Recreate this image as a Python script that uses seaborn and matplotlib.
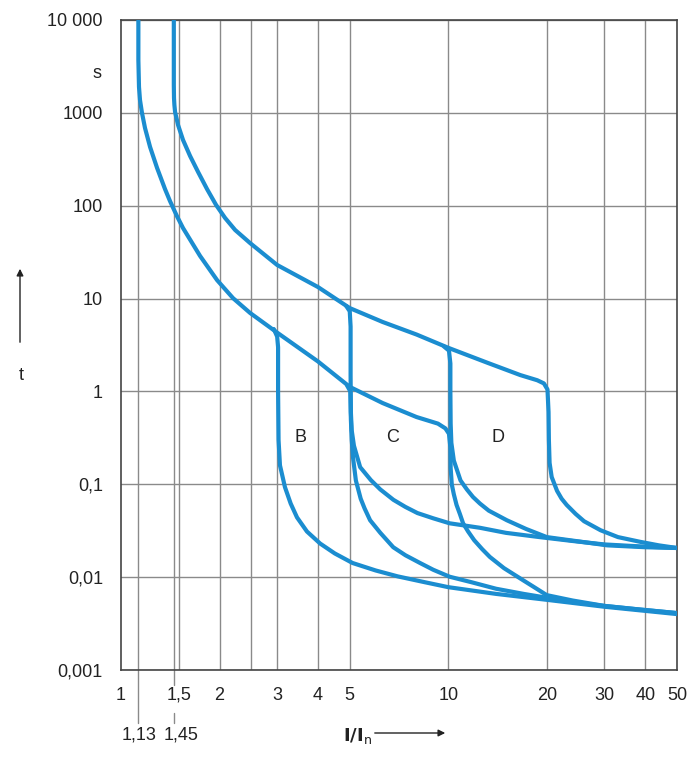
import matplotlib
matplotlib.use("Agg")
import matplotlib.pyplot as plt
import matplotlib.transforms as mtransforms
import seaborn as sns

sns.set_theme(style="white")
plt.rcParams['font.family'] = ['Liberation Sans', 'DejaVu Sans']

# thermal curves (lower 1,13 / upper 1,45), each running on into its magnetic tail
lower_x = [1.13, 1.13, 1.135, 1.143, 1.159, 1.184, 1.227, 1.289, 1.363, 1.412, 1.483, 1.547, 1.744, 1.966,
           2.2, 2.48, 3.0, 4.0, 5.0, 6.3, 8.0, 9.3, 9.8, 10.05, 10.15, 10.17, 10.25, 10.4, 10.6, 10.85,
           11.1, 11.5, 12.0, 12.7, 13.4, 14.8, 16.9, 18.3, 20.0, 24.0, 30.0, 38.0, 50.0]
lower_t = [10000, 3700, 1900, 1375, 1000, 687, 429, 255, 151, 112, 77, 57.5, 28.8, 15.8,
           10.1, 7.0, 4.3, 2.1, 1.12, 0.75, 0.53, 0.45, 0.40, 0.35, 0.25, 0.15, 0.1, 0.078, 0.06, 0.048,
           0.038, 0.031, 0.025, 0.020, 0.0165, 0.0125, 0.0093, 0.0078, 0.0064, 0.0056, 0.0049, 0.0045, 0.0041]

upper_x = [1.45, 1.45, 1.452, 1.456, 1.463, 1.494, 1.547, 1.626, 1.72, 1.832, 1.952, 2.08, 2.232, 2.48,
           3.0, 4.0, 5.0, 6.3, 8.0, 10.0, 13.2, 16.6, 18.7, 19.6, 20.1, 20.25, 20.3, 20.4, 20.7, 21.5,
           22.2, 23.0, 24.5, 26.0, 29.2, 33.0, 38.6, 44.0, 50.0]
upper_t = [10000, 2000, 1445, 1216, 1022, 740, 511, 343, 231, 151, 102, 73.8, 54.8, 39.6,
           23.0, 13.3, 7.9, 5.6, 4.1, 2.95, 2.03, 1.5, 1.32, 1.22, 1.05, 0.6, 0.3, 0.17, 0.12, 0.085,
           0.07, 0.06, 0.048, 0.04, 0.032, 0.027, 0.024, 0.022, 0.0206]

# magnetic branches
b3_x = [2.93, 3.0, 3.02, 3.02, 3.03, 3.06, 3.17, 3.3, 3.45, 3.7, 4.06, 4.5, 5.1, 6.0, 7.0, 8.5,
        10.0, 14.0, 20.0, 30.0, 50.0]
b3_t = [4.7, 3.9, 3.0, 1.0, 0.3, 0.16, 0.093, 0.062, 0.044, 0.031, 0.023, 0.018, 0.0142, 0.0118, 0.0102, 0.0088,
        0.0078, 0.0066, 0.0057, 0.0048, 0.004]

b5_x = [4.88, 5.0, 5.03, 5.03, 5.04, 5.07, 5.15, 5.38, 5.8, 6.2, 6.8, 7.4, 8.05, 9.0, 10.1, 12.5,
        15.0, 19.0, 24.0, 30.0, 38.0, 50.0]
b5_t = [8.3, 7.3, 5.0, 1.5, 0.6, 0.38, 0.26, 0.153, 0.111, 0.088, 0.068, 0.057, 0.049, 0.043, 0.038, 0.034,
        0.030, 0.027, 0.0245, 0.0225, 0.0215, 0.0206]

c5_x = [4.9, 5.02, 5.04, 5.07, 5.12, 5.22, 5.4, 5.55, 5.77, 6.2, 6.79, 7.4, 8.2, 9.0, 10.1, 11.8,
        14.0, 17.0, 20.0, 24.0, 30.0, 38.0, 50.0]
c5_t = [1.17, 1.0, 0.5, 0.3, 0.19, 0.11, 0.07, 0.055, 0.041, 0.030, 0.021, 0.0172, 0.0142, 0.0120, 0.0101, 0.0088,
        0.0075, 0.0066, 0.006, 0.0054, 0.0049, 0.0045, 0.0041]

c10_x = [9.7, 10.05, 10.15, 10.15, 10.17, 10.22, 10.4, 10.9, 11.4, 11.9, 12.5, 13.3, 15.1, 17.3,
         20.0, 24.5, 30.6, 40.0, 50.0]
c10_t = [3.05, 2.75, 2.0, 1.0, 0.45, 0.28, 0.18, 0.11, 0.088, 0.073, 0.062, 0.052, 0.041, 0.033,
         0.027, 0.0245, 0.022, 0.021, 0.0206]

x_ticks = [1, 1.5, 2, 3, 4, 5, 10, 20, 30, 40, 50]
x_labels = ["1", "1,5", "2", "3", "4", "5", "10", "20", "30", "40", "50"]
x_grid = [1.13, 1.45, 1.5, 2, 2.5, 3, 4, 5, 10, 20, 30, 40]
y_ticks = [0.001, 0.01, 0.1, 1, 10, 100, 1000, 10000]
y_labels = ["0,001", "0,01", "0,1", "1", "10", "100", "1000", "10 000"]
zone_labels = ["B", "C", "D"]
zone_x = [3.53, 6.75, 14.2]
zone_t = [0.32, 0.32, 0.32]

BLUE = "#1b8dd0"
GRID = "#8a8a8a"
TEXT = "#222222"
FS = 13

fig = plt.figure(figsize=(7, 7.64), dpi=100)
ax = fig.add_axes([121 / 700, 1 - 670 / 764, 556 / 700, 650 / 764])
ax.set_xscale("log")
ax.set_yscale("log")
ax.set_xlim(1, 50)
ax.set_ylim(0.001, 10000)

for xv in x_grid:
    ax.axvline(xv, color=GRID, lw=1.0, zorder=1)
for yv in y_ticks:
    ax.axhline(yv, color=GRID, lw=1.0, zorder=1)

curves = [(lower_x, lower_t), (upper_x, upper_t), (b3_x, b3_t),
          (b5_x, b5_t), (c5_x, c5_t), (c10_x, c10_t)]
for cx, ct in curves:
    sns.lineplot(x=cx, y=ct, sort=False, estimator=None, color=BLUE, lw=3.0, ax=ax,
                 solid_joinstyle="round", solid_capstyle="round", zorder=3)

for lab, zx, zt in zip(zone_labels, zone_x, zone_t):
    ax.text(zx, zt, lab, fontsize=FS, color=TEXT, ha="center", va="center")

ax.set_xticks(x_ticks)
ax.set_xticklabels(x_labels)
ax.set_yticks(y_ticks)
ax.set_yticklabels(y_labels)
ax.minorticks_off()
ax.tick_params(axis="both", length=0, labelsize=FS, colors=TEXT)
ax.tick_params(axis="x", pad=12)
ax.tick_params(axis="y", pad=13)
for sp in ax.spines.values():
    sp.set_color("#444444")
    sp.set_linewidth(1.2)

# extended marker lines for 1,13 and 1,45 below the axis
trans = mtransforms.blended_transform_factory(ax.transData, ax.transAxes)
ax.plot([1.13, 1.13], [0, -0.082], color=GRID, lw=1.0, transform=trans, clip_on=False)
ax.plot([1.45, 1.45], [0, -0.023], color=GRID, lw=1.0, transform=trans, clip_on=False)
ax.plot([1.45, 1.45], [-0.066, -0.082], color=GRID, lw=1.0, transform=trans, clip_on=False)
ax.text(1.135, -0.1, "1,13", transform=trans, fontsize=FS, color=TEXT, ha="center", va="center")
ax.text(1.53, -0.1, "1,45", transform=trans, fontsize=FS, color=TEXT, ha="center", va="center")

fig.text(97 / 700, 1 - 73 / 764, "s", fontsize=FS, color=TEXT, ha="center", va="center")
fig.text(21 / 700, 1 - 376 / 764, "t", fontsize=FS, color=TEXT, ha="center", va="center")
fig.add_artist(matplotlib.patches.FancyArrowPatch((20 / 700, 1 - 345 / 764), (20 / 700, 1 - 266 / 764),
                                                  transform=fig.transFigure, arrowstyle="-|>",
                                                  mutation_scale=10, color="#222222", lw=1.0))
fig.text(358 / 700, 1 - 736 / 764, r"$\mathbf{I/I}_\mathrm{n}$", fontsize=FS, color=TEXT,
         ha="center", va="center")
fig.add_artist(matplotlib.patches.FancyArrowPatch((372 / 700, 1 - 733 / 764), (448 / 700, 1 - 733 / 764),
                                                  transform=fig.transFigure, arrowstyle="-|>",
                                                  mutation_scale=10, color="#222222", lw=1.0))

fig.savefig("out.png", dpi=100, facecolor="white")
